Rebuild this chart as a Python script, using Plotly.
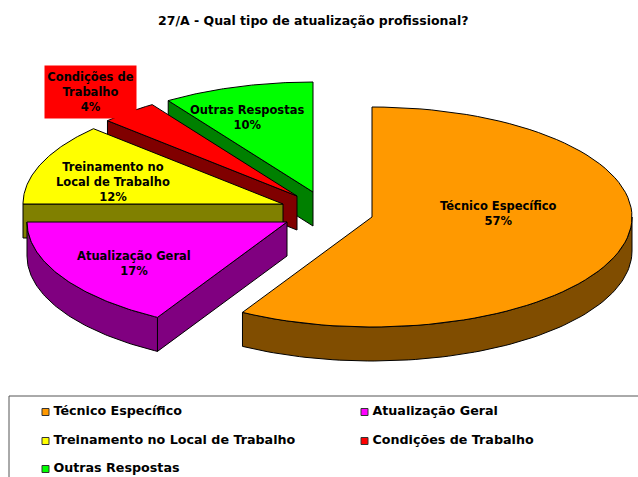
import numpy as np
import plotly.graph_objects as go

# ---- data ----
categories = ["Técnico Específico", "Atualização Geral", "Treinamento no Local de Trabalho",
              "Condições de Trabalho", "Outras Respostas"]
printed_percent = [57, 17, 12, 4, 10]
slice_shares = [58.3, 16.7, 12.0, 3.6, 9.4]
title_text = "27/A - Qual tipo de atualização profissional?"

# ---- style / layout ----
top_colors = ["#FF9900", "#FF00FF", "#FFFF00", "#FF0000", "#00FF00"]
wall_colors = ["#804D00", "#800080", "#808000", "#800000", "#008000"]
slice_labels = ["Técnico Específico", "Atualização Geral", "Treinamento no<br>Local de Trabalho",
                "Condições de<br>Trabalho", "Outras Respostas"]
apex_x = [372, 287, 283, 297, 313]
apex_y = [217, 222, 204, 196, 192]
label_x = [498, 134, 113, 90, 247]
label_y = [213, 263, 182, 92, 117]
RX, RY, DEPTH = 260, 110, 34
FONT = "DejaVu Sans"
LEGEND_COL_X = [45.5, 364.5]
LEGEND_ROW_Y = [412, 441, 469]

W, H = 638, 477
fig = go.Figure()
bounds = 360 * np.cumsum([0] + slice_shares) / sum(slice_shares)


def rim(cx, cy, a0, a1, dy=0):
    t = np.radians(np.linspace(a0, a1, 80))
    return cx + RX * np.sin(t), cy - RY * np.cos(t) + dy


def poly(xs, ys, color):
    fig.add_trace(go.Scatter(x=np.round(xs, 2), y=np.round(ys, 2), mode="lines", fill="toself",
                             fillcolor=color, line=dict(color="#000000", width=1),
                             hoverinfo="skip", showlegend=False))


for i in [4, 3, 2, 1, 0]:
    a0, a1 = bounds[i], bounds[i + 1]
    cx, cy = apex_x[i], apex_y[i]
    # outer curved wall: only the part of the rim facing the viewer
    lo, hi = max(a0, 90), min(a1, 270)
    if lo < hi:
        ux, uy = rim(cx, cy, lo, hi)
        dx, dyy = rim(cx, cy, lo, hi, DEPTH)
        poly(np.r_[ux, dx[::-1], ux[0]], np.r_[uy, dyy[::-1], uy[0]], wall_colors[i])
    # radial wall along the leading edge
    if i > 0:
        ex, ey = rim(cx, cy, a0, a0)
        ex, ey = ex[0], ey[0]
        poly([cx, ex, ex, cx, cx], [cy, ey, ey + DEPTH, cy + DEPTH, cy], wall_colors[i])
    # top face
    tx, ty = rim(cx, cy, a0, a1)
    poly(np.r_[cx, tx, cx], np.r_[cy, ty, cy], top_colors[i])

# legend: real marker + text traces laid out in two columns
for i, name in enumerate(categories):
    col, row = i % 2, i // 2
    fig.add_trace(go.Scatter(
        x=[LEGEND_COL_X[col]], y=[LEGEND_ROW_Y[row]], mode="markers+text",
        marker=dict(symbol="square", size=7, color=top_colors[i], line=dict(color="#333333", width=1)),
        text=[f"<b>\u2009{name}</b>"], textposition="middle right",
        textfont=dict(family=FONT, size=12.7, color="#000000"),
        name=name, hoverinfo="skip", showlegend=False))

annotations = [dict(x=313, y=20.5, text=f"<b>{title_text}</b>", showarrow=False,
                    font=dict(family=FONT, size=12.5, color="#000000"), xanchor="center", yanchor="middle")]
for i in range(len(categories)):
    a = dict(x=label_x[i], y=label_y[i], text=f"<b>{slice_labels[i]}<br>{printed_percent[i]}%</b>",
             showarrow=False, align="center", xanchor="center", yanchor="middle",
             font=dict(family=FONT, size=11.5, color="#000000"))
    if i == 3:
        a.update(bgcolor="#FF0000", width=91, height=52, borderpad=0, x=90.5)
    annotations.append(a)

fig.update_layout(
    width=W, height=H, margin=dict(l=0, r=0, t=0, b=0),
    paper_bgcolor="#FFFFFF", plot_bgcolor="#FFFFFF", showlegend=False,
    xaxis=dict(range=[0, W], visible=False, fixedrange=True),
    yaxis=dict(range=[H, 0], visible=False, fixedrange=True),
    annotations=annotations,
    shapes=[dict(type="rect", xref="x", yref="y", x0=9, y0=396, x1=W + 20, y1=H + 20,
                 line=dict(color="#555555", width=1), fillcolor="rgba(0,0,0,0)", layer="below")],
)
fig.write_html("out.html", config={"displayModeBar": False},
               post_script="document.body.style.margin='0';document.body.style.overflow='hidden';")
